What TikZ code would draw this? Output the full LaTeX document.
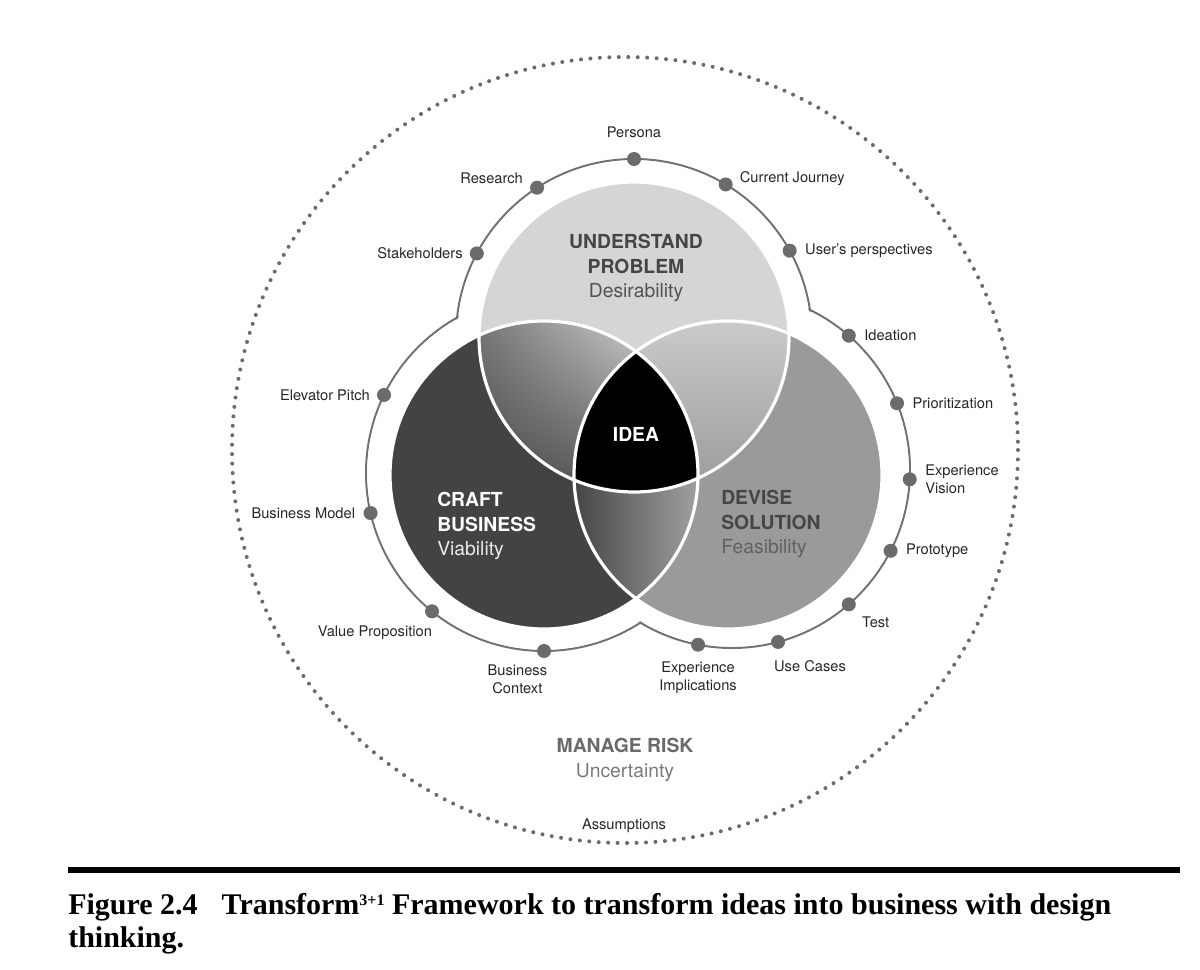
\documentclass[tikz,border=0pt]{standalone}
\usepackage{fontspec}
\setmainfont{TeX Gyre Heros}
\newfontfamily\captionfont{Liberation Serif}
\usepackage{tikz}
\usetikzlibrary{positioning, shadings}
\definecolor{ringgray}{HTML}{727272}
\definecolor{dotgray}{HTML}{6B6B6B}
\definecolor{probfill}{HTML}{D5D5D5}
\definecolor{craftfill}{HTML}{434343}
\definecolor{devisefill}{HTML}{9A9A9A}
\definecolor{headtext}{HTML}{454545}
\definecolor{labeltext}{HTML}{262626}
\definecolor{risktext}{HTML}{6A6A6A}

\begin{document}
\begin{tikzpicture}[x=0.75pt, y=-0.75pt,
    ringdot/.style={circle, fill=dotgray, inner sep=0pt, minimum size=10.5pt},
    lbl/.style={font=\fontsize{11}{13.5}\selectfont, text=labeltext, inner sep=0pt, align=center},
    head/.style={font=\fontsize{14.5}{18.5}\selectfont, inner sep=0pt},
    ringline/.style={draw=ringgray, line width=1.5pt},
    whiteedge/.style={draw=white, line width=2.4pt}]
\useasboundingbox (0,0) rectangle (1200,970);

% centres of the three circles and of the ring round them
\coordinate (tc) at (634,337);
\coordinate (lc) at (544,475);
\coordinate (rc) at (728,475);
\coordinate (tco) at (634,337);
\coordinate (lco) at (544,473);
\coordinate (rco) at (732,470);
\coordinate (riskc) at (625,450);

% outer dotted circle
\draw[dotgray, line width=3pt, line cap=round, dash pattern=on 0pt off 7.1pt] (riskc) circle (393);

% ring round the union
\draw[ringline] (tco) circle (178) (lco) circle (178) (rco) circle (178);
\fill[white] (tco) circle (176.6) (lco) circle (176.6) (rco) circle (176.6);

% the three circles
\fill[probfill] (tc) circle (155);
\fill[craftfill] (lc) circle (154);
\fill[devisefill] (rc) circle (154);

% overlaps
\begin{scope}
  \clip (tc) circle (155);
  \clip (lc) circle (154);
  \shade[upper left=black!55, upper right=black!18, lower left=black!72, lower right=black!66]
    (470,315) rectangle (640,495);
\end{scope}
\begin{scope}
  \clip (tc) circle (155);
  \clip (rc) circle (154);
  \shade[top color=black!20, bottom color=black!40] (630,315) rectangle (800,495);
\end{scope}
\begin{scope}
  \clip (lc) circle (154);
  \clip (rc) circle (154);
  \shade[left color=black!74, right color=black!36] (570,470) rectangle (702,602);
\end{scope}
\begin{scope}
  \clip (tc) circle (155);
  \clip (lc) circle (154);
  \fill[black] (rc) circle (154);
\end{scope}

\draw[whiteedge] (tc) circle (155) (lc) circle (154) (rc) circle (154);

% dots on the ring: understand problem
\node[ringdot] (persona) at ([shift={(-90:178)}]tco) {};
\node[ringdot] (research) at ([shift={(-123:178)}]tco) {};
\node[ringdot] (journey) at ([shift={(-59:178)}]tco) {};
\node[ringdot] (stakeholders) at ([shift={(-152:178)}]tco) {};
\node[ringdot] (perspectives) at ([shift={(-29:178)}]tco) {};
% craft business
\node[ringdot] (pitch) at ([shift={(-154:178)}]lco) {};
\node[ringdot] (model) at ([shift={(-193:178)}]lco) {};
\node[ringdot] (valueprop) at ([shift={(-231:178)}]lco) {};
\node[ringdot] (context) at ([shift={(-270:178)}]lco) {};
% devise solution
\node[ringdot] (ideation) at ([shift={(-49:178)}]rco) {};
\node[ringdot] (priorit) at ([shift={(-22:178)}]rco) {};
\node[ringdot] (vision) at ([shift={(3:178)}]rco) {};
\node[ringdot] (prototype) at ([shift={(27:178)}]rco) {};
\node[ringdot] (test) at ([shift={(49:178)}]rco) {};
\node[ringdot] (usecases) at ([shift={(75:178)}]rco) {};
\node[ringdot] (implications) at ([shift={(101:178)}]rco) {};

% labels
\node[lbl, above=10pt of persona] (personaL) {Persona};
\node[lbl, left=5pt of research, yshift=7pt] (researchL) {Research};
\node[lbl, right=5pt of journey, yshift=4pt] (journeyL) {Current Journey};
\node[lbl, left=5pt of stakeholders] (stakeholdersL) {Stakeholders};
\node[lbl, right=6pt of perspectives] (perspectivesL) {User's perspectives};
\node[lbl, left=5pt of pitch] (pitchL) {Elevator Pitch};
\node[lbl, left=6pt of model] (modelL) {Business Model};
\node[lbl, below left=7pt and -4pt of valueprop] (valuepropL) {Value Proposition};
\node[lbl, below=5pt of context, xshift=-20pt] (contextL) {Business\\Context};
\node[lbl, right=6pt of ideation] (ideationL) {Ideation};
\node[lbl, right=6pt of priorit] (prioritL) {Prioritization};
\node[lbl, right=6pt of vision, align=left] (visionL) {Experience\\Vision};
\node[lbl, right=6pt of prototype] (prototypeL) {Prototype};
\node[lbl, below right=5pt and 6pt of test] (testL) {Test};
\node[lbl, below right=10pt and -7pt of usecases] (usecasesL) {Use Cases};
\node[lbl, below=7pt of implications] (implicationsL) {Experience\\Implications};

% circle titles
\node[head, align=center, text=headtext] (understand) at (636,268)
  {\textbf{UNDERSTAND}\\\textbf{PROBLEM}\\{\color{black!68}Desirability}};
\node[head, align=left, text=white, anchor=west] (craft) at (437,526)
  {\textbf{CRAFT}\\\textbf{BUSINESS}\\{\color{white!92!black}Viability}};
\node[head, align=left, text=headtext, anchor=west] (devise) at (721,524)
  {\textbf{DEVISE}\\\textbf{SOLUTION}\\{\color{black!62}Feasibility}};
\node[head, text=white] (idea) at (636,434) {\textbf{IDEA}};
\node[head, align=center, text=risktext] (risk) at (625,760)
  {\textbf{MANAGE RISK}\\{\color{black!52}Uncertainty}};
\node[lbl] (assumptions) at (624,826) {Assumptions};

% rule and caption
\coordinate (ruleL) at (68,870);
\coordinate (ruleR) at (1180,870);
\draw[line width=4.5pt] (ruleL) -- (ruleR);
\node[anchor=north west, inner sep=0pt, align=left,
  font=\captionfont\bfseries\fontsize{22.5}{24.5}\selectfont] (caption) at (68,893)
  {Figure 2.4\hspace{0.8em}Transform{\fontsize{12}{12}\selectfont\raisebox{0.55em}{3+1}} Framework to transform ideas into business with design\\thinking.};
\end{tikzpicture}
\end{document}
